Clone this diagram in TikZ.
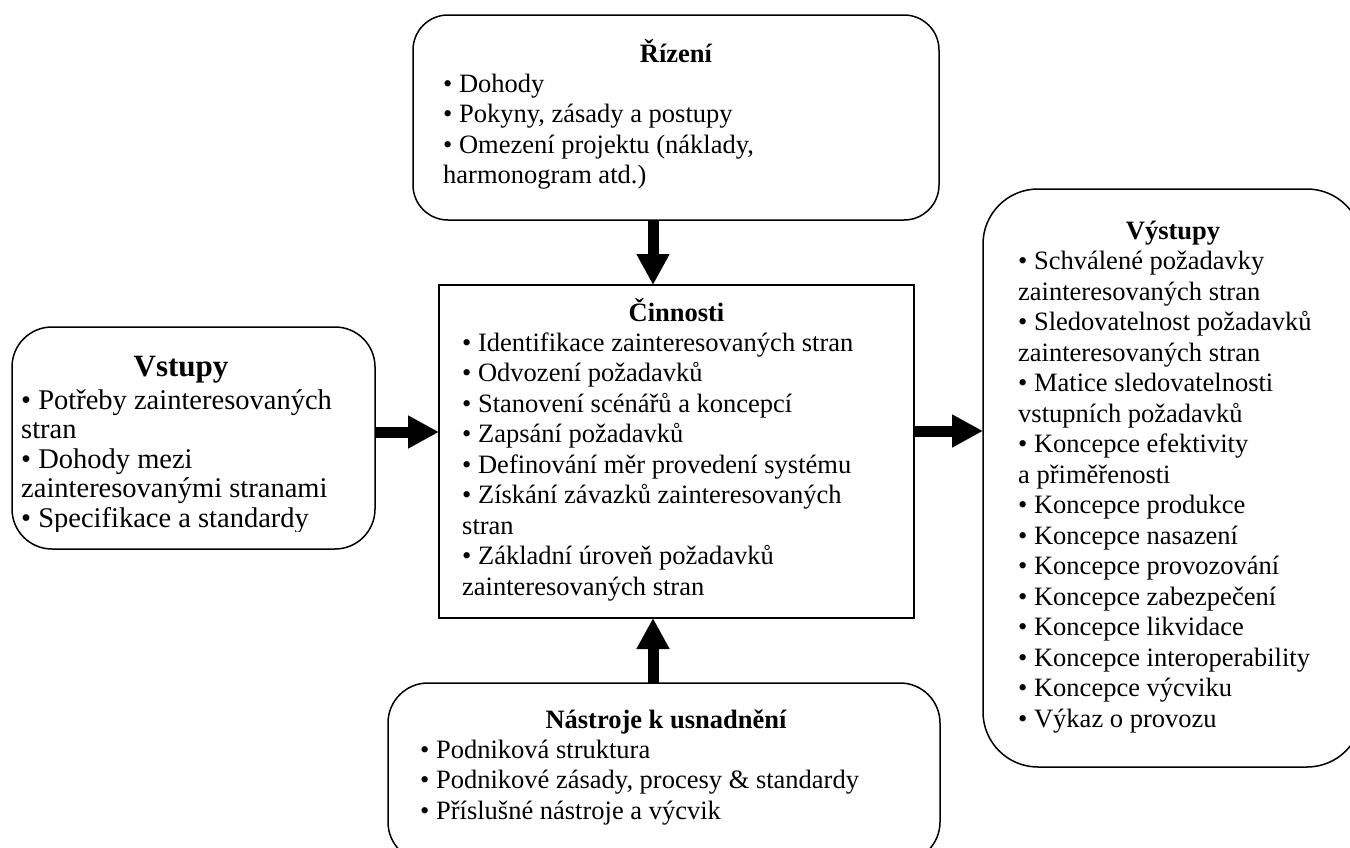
\documentclass[tikz,border=0pt]{standalone}
\usepackage{fontspec}
\setmainfont{Liberation Serif}
\usetikzlibrary{arrows.meta}

\tikzset{
  panel/.style={draw, line width=1.5pt, rounded corners=#1, inner sep=0pt, outer sep=0pt},
  plainpanel/.style={draw, line width=1.5pt, inner sep=0pt, outer sep=0pt},
  heading/.style={font=\fontsize{26.5}{30.5}\selectfont\bfseries, inner sep=0pt, anchor=base},
  bodytext/.style={font=\fontsize{26.5}{30.5}\selectfont, inner sep=0pt, align=left, anchor=north west},
  bigheading/.style={font=\fontsize{31}{29.5}\selectfont\bfseries, inner sep=0pt, anchor=base},
  bigbody/.style={font=\fontsize{28.5}{29.5}\selectfont, inner sep=0pt, align=left, anchor=north west},
  bigarrow/.style={line width=11pt, -{Triangle[length=31pt,width=31pt]}}
}

\begin{document}
\begin{tikzpicture}[x=1pt,y=-1pt]
\useasboundingbox (0,0) rectangle (1350,847);
\clip (0,0) rectangle (1350,847);

% frames
\node[panel=35pt, minimum width=526pt, minimum height=205pt] (riz) at (676,117.5) {};
\node[plainpanel, minimum width=475pt, minimum height=333pt] (cin) at (676.5,451.5) {};
\node[panel=40pt, minimum width=363pt, minimum height=222pt] (vst) at (193.5,438) {};
\node[panel=55pt, minimum width=379pt, minimum height=578pt] (vys) at (1172.5,478) {};
\node[panel=40pt, minimum width=552pt, minimum height=179pt] (nas) at (664,772.5) {};

% Řízení
\node[heading] (rizT) at (676,62) {Řízení};
\node[bodytext] (rizB) at (443,70.65) {\strut• Dohody\\• Pokyny, zásady a postupy\\• Omezení projektu (náklady,\\harmonogram atd.)};

% Činnosti
\node[heading] (cinT) at (676.5,321) {Činnosti};
\node[bodytext] (cinB) at (462,329.65) {\strut• Identifikace zainteresovaných stran\\• Odvození požadavků\\• Stanovení scénářů a koncepcí\\• Zapsání požadavků\\• Definování měr provedení systému\\• Získání závazků zainteresovaných\\stran\\• Základní úroveň požadavků\\zainteresovaných stran};

% Vstupy (last line cut by the frame)
\node[bigheading] (vstT) at (181,376) {Vstupy};
\begin{scope}
  \clip (0,300) rectangle (400,531);
  \node[bigbody] (vstB) at (21,388.35) {\strut• Potřeby zainteresovaných\\stran\\• Dohody mezi\\zainteresovanými stranami\\• Specifikace a standardy};
\end{scope}

% Výstupy
\node[heading] (vysT) at (1173,239) {Výstupy};
\node[bodytext] (vysB) at (1018,248.15) {\strut• Schválené požadavky\\zainteresovaných stran\\• Sledovatelnost požadavků\\zainteresovaných stran\\• Matice sledovatelnosti\\vstupních požadavků\\• Koncepce efektivity\\a přiměřenosti\\• Koncepce produkce\\• Koncepce nasazení\\• Koncepce provozování\\• Koncepce zabezpečení\\• Koncepce likvidace\\• Koncepce interoperability\\• Koncepce výcviku\\• Výkaz o provozu};

% Nástroje k usnadnění
\node[heading] (nasT) at (666,728) {Nástroje k usnadnění};
\node[bodytext] (nasB) at (420,736.65) {\strut• Podniková struktura\\• Podnikové zásady, procesy \& standardy\\• Příslušné nástroje a výcvik};

% connectors
\coordinate (vx) at (653,0);
\coordinate (hyl) at (0,432);
\coordinate (hyr) at (0,431);
\draw[bigarrow] (vx |- riz.south) -- (vx |- cin.north);
\draw[bigarrow] (vx |- nas.north) -- (vx |- cin.south);
\draw[bigarrow] (vst.east |- hyl) -- (cin.west |- hyl);
\draw[bigarrow] (cin.east |- hyr) -- (vys.west |- hyr);
\end{tikzpicture}
\end{document}
